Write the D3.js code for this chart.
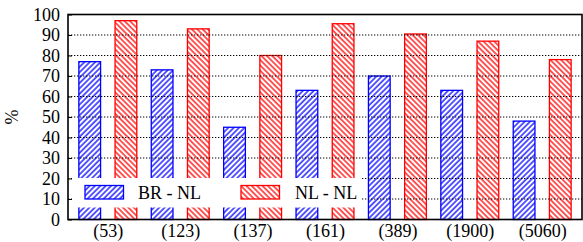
<!DOCTYPE html>
<html>
<head>
<meta charset="utf-8">
<script src="https://cdn.jsdelivr.net/npm/d3@7"></script>
<style>
  body { margin: 0; background: #fff; }
</style>
</head>
<body>
<svg id="chart" width="583" height="242"></svg>
<script>
const categories = ["(53)", "(123)", "(137)", "(161)", "(389)", "(1900)", "(5060)"];
const brNl = [77, 73, 45, 63, 70, 63, 48];
const nlNl = [97, 93, 80, 95.5, 90.5, 87, 78];
const yTicks = [0, 10, 20, 30, 40, 50, 60, 70, 80, 90, 100];
const seriesNames = ["BR - NL", "NL - NL"];

const FONT = "'Liberation Serif', 'DejaVu Serif', serif";
const M = { left: 68, right: 582, top: 14.5, bottom: 219.5 };
const svg = d3.select("#chart");

const x = d3.scaleLinear().domain([-0.55, 6.55]).range([M.left, M.right]);
const y = d3.scaleLinear().domain([0, 100]).range([M.bottom, M.top]);
const offset = 0.25, barW = 0.3;

function styleText(sel) {
  sel.style("font-family", FONT).style("font-size", "18px").attr("fill", "#000");
}

// hatch patterns
const defs = svg.append("defs");
function hatch(id, color, angle) {
  defs.append("pattern")
    .attr("id", id)
    .attr("patternUnits", "userSpaceOnUse")
    .attr("width", 3.8).attr("height", 3.8)
    .attr("patternTransform", `rotate(${angle})`)
    .call(p => p.append("rect").attr("width", 3.8).attr("height", 3.8).attr("fill", "#fff"))
    .call(p => p.append("line")
      .attr("x1", 1).attr("x2", 1).attr("y1", 0).attr("y2", 3.8)
      .attr("stroke", color).attr("stroke-width", 1.3));
}
hatch("hatch-blue", "#0000ff", 45);
hatch("hatch-red", "#ff0000", -45);

const series = [
  { values: brNl, dx: -offset, fill: "url(#hatch-blue)", stroke: "#0000ff" },
  { values: nlNl, dx: offset, fill: "url(#hatch-red)", stroke: "#ff0000" }
];

// bars
series.forEach(s => {
  svg.append("g").selectAll("rect")
    .data(s.values)
    .join("rect")
    .attr("x", (d, i) => x(i + s.dx - barW / 2))
    .attr("width", x(barW) - x(0))
    .attr("y", d => y(d))
    .attr("height", d => y(0) - y(d))
    .attr("fill", s.fill)
    .attr("stroke", s.stroke)
    .attr("stroke-width", 1.3);
});

// grid on top of bars
svg.append("g").selectAll("line")
  .data(yTicks.filter(t => t > 0 && t < 100))
  .join("line")
  .attr("x1", M.left).attr("x2", M.right)
  .attr("y1", d => y(d)).attr("y2", d => y(d))
  .attr("stroke", "#000").attr("stroke-width", 1.2)
  .attr("stroke-dasharray", "1.3,1.7");

// legend box
const legend = svg.append("g");
legend.append("rect")
  .attr("x", 72).attr("y", 178)
  .attr("width", 290).attr("height", 29.5)
  .attr("fill", "#fff");
[{ x: 85, tx: 138 }, { x: 241, tx: 295 }].forEach((p, k) => {
  legend.append("rect")
    .attr("x", p.x).attr("y", 185.5)
    .attr("width", 38.5).attr("height", 13.5)
    .attr("fill", series[k].fill)
    .attr("stroke", series[k].stroke).attr("stroke-width", 1.3);
  legend.append("text")
    .attr("x", p.tx).attr("y", 198.5)
    .text(seriesNames[k])
    .call(styleText);
});

// frame
svg.append("rect")
  .attr("x", M.left).attr("y", M.top)
  .attr("width", M.right - M.left).attr("height", M.bottom - M.top)
  .attr("fill", "none").attr("stroke", "#000").attr("stroke-width", 1.6);

// y axis
const yAxis = d3.axisLeft(y).tickValues(yTicks).tickSize(-4).tickPadding(8);
svg.append("g")
  .attr("transform", `translate(${M.left},0)`)
  .call(yAxis)
  .call(g => g.select(".domain").remove())
  .call(g => g.selectAll("text").call(styleText))
  .call(g => g.selectAll("line").attr("stroke-width", 1));

// x labels
const xAxis = d3.axisBottom(x).tickValues(d3.range(categories.length))
  .tickFormat(i => categories[i]).tickSize(0).tickPadding(6);
svg.append("g")
  .attr("transform", `translate(0,${M.bottom})`)
  .call(xAxis)
  .call(g => g.select(".domain").remove())
  .call(g => g.selectAll("text").call(styleText).attr("dy", "0.62em"));

// y label
svg.append("text")
  .attr("transform", "translate(18,117) rotate(-90)")
  .attr("text-anchor", "middle")
  .text("%")
  .call(styleText);
</script>
</body>
</html>
